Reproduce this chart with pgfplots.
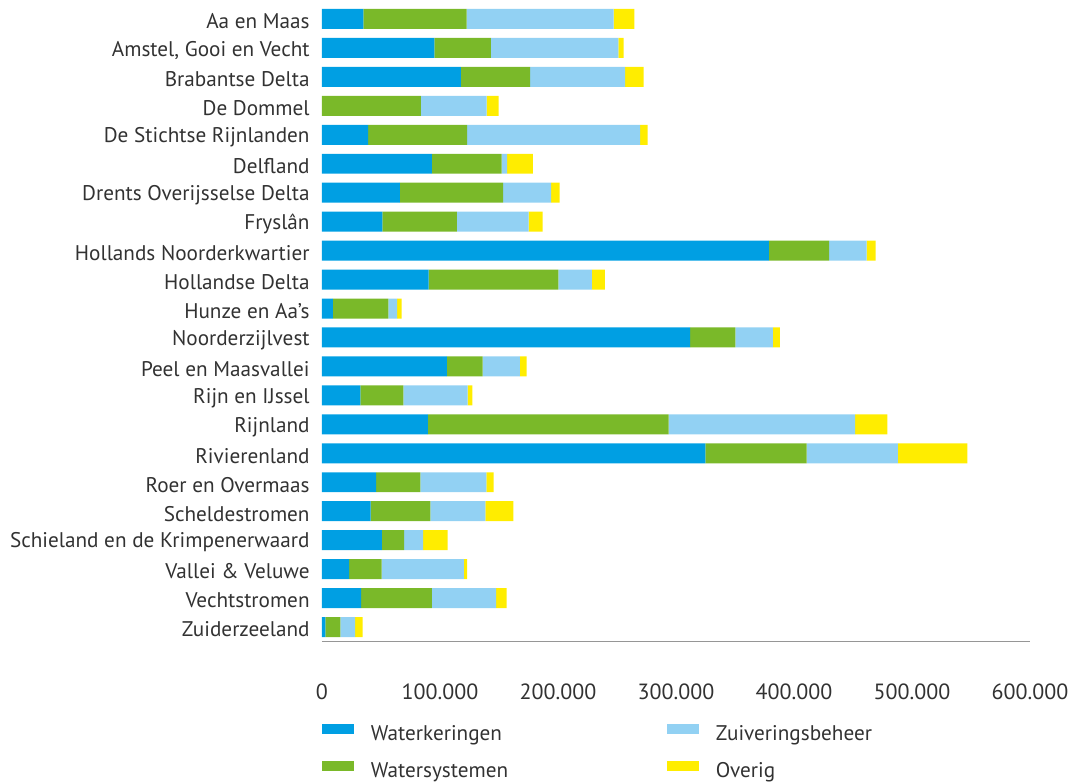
\documentclass[border=0pt]{standalone}
\usepackage{pgfplots}
\usepackage{pgfplotstable}
\pgfplotsset{compat=1.18}
\usepackage{fontspec}
\setmainfont{PT Sans}
\definecolor{cW}{RGB}{0,159,227}
\definecolor{cS}{RGB}{122,185,41}
\definecolor{cZ}{RGB}{146,209,243}
\definecolor{cO}{RGB}{255,237,0}
\definecolor{txt}{RGB}{50,50,50}
\definecolor{axgray}{RGB}{150,150,150}

\pgfplotstableread{
y W S Z O
0 35000 87600 124600 17500
1 95200 48000 107900 4600
2 117800 58500 80500 15800
3 0 83900 55700 10100
4 39000 83900 146600 6500
5 93200 59100 4500 22000
6 66100 87300 40700 7300
7 51100 63300 60800 11800
8 378800 50900 31900 7600
9 90400 109900 28500 11000
10 9300 46900 7400 3900
11 311900 38400 31700 6100
12 105900 30300 31600 5700
13 32500 36400 54600 3900
14 89800 204000 157900 27400
15 324800 86000 77300 58800
16 45800 37500 55900 6300
17 41300 50500 46600 23700
18 50800 18700 16100 20900
19 22900 27700 69700 2600
20 33100 60100 54300 9000
21 2800 12700 12500 6500
}\datatable

\begin{document}
\fontsize{10.6pt}{13pt}\selectfont
\begin{tikzpicture}
\useasboundingbox (-161pt,-70.25pt) rectangle (380pt,320.75pt);
\begin{axis}[
  at={(0,0)}, anchor=south west,
  scale only axis,
  width=354pt, height=318.5pt,
  xbar stacked,
  bar width=0.69,
  xmin=0, xmax=600000,
  ymin=-0.5, ymax=21.5,
  y dir=reverse,
  enlargelimits=false,
  separate axis lines,
  axis x line*=bottom,
  axis y line*=left,
  y axis line style={draw=none},
  x axis line style={draw=axgray, line width=0.8pt},
  major tick length=0pt,
  xtick={0,100000,...,600000},
  scaled x ticks=false,
  xticklabel={\pgfmathprintnumber[fixed,precision=0,1000 sep={.},assume math mode=true]{\tick}},
  ytick={0,...,21},
  yticklabels={Aa en Maas,{Amstel, Gooi en Vecht},Brabantse Delta,De Dommel,De Stichtse Rijnlanden,Delfland,Drents Overijsselse Delta,Fryslân,Hollands Noorderkwartier,Hollandse Delta,Hunze en Aa's,Noorderzijlvest,Peel en Maasvallei,Rijn en IJssel,Rijnland,Rivierenland,Roer en Overmaas,Scheldestromen,Schieland en de Krimpenerwaard,Vallei \& Veluwe,Vechtstromen,Zuiderzeeland},
  yticklabel style={inner sep=0pt, xshift=-6pt, yshift=-1.2pt, text=txt, font=\fontsize{10.6pt}{13pt}\selectfont},
  xticklabel style={inner sep=0pt, yshift=-20.75pt, text=txt, font=\fontsize{11pt}{13pt}\selectfont},
  legend columns=2,
  transpose legend,
  legend cell align=left,
  legend style={at={(0,0)}, anchor=north west, yshift=-41pt, draw=none, fill=none, inner sep=0pt, outer sep=0pt,
    column sep=8.5pt, row sep=8.5pt,
    nodes={inner sep=0pt, text width=139.5pt, text height=8pt, text depth=2pt, text=txt, font=\fontsize{10.6pt}{13pt}\selectfont}},
  legend image code/.code={\fill[#1, draw=none] (0pt,0.3pt) rectangle (16pt,5.3pt);},
]
\addplot[fill=cW, draw=none] table[x=W, y=y] {\datatable};
\addplot[fill=cS, draw=none] table[x=S, y=y] {\datatable};
\addplot[fill=cZ, draw=none] table[x=Z, y=y] {\datatable};
\addplot[fill=cO, draw=none] table[x=O, y=y] {\datatable};
\legend{Waterkeringen,Watersystemen,Zuiveringsbeheer,Overig}
\end{axis}
\end{tikzpicture}
\end{document}
